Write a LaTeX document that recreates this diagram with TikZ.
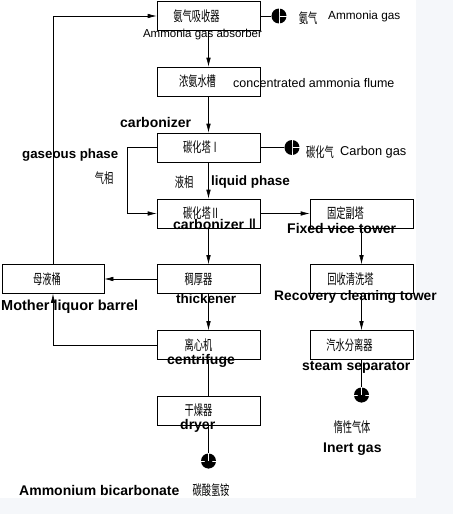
\documentclass[tikz,border=0pt]{standalone}
\usepackage{fontspec}
\setmainfont{Liberation Sans}
\newfontfamily\cjk[FakeStretch=0.66]{Noto Sans CJK SC}
\usetikzlibrary{arrows.meta,calc}
\definecolor{bgc}{RGB}{245,247,250}
\begin{document}
\begin{tikzpicture}[x=1pt,y=-1pt,
  box/.style={draw, line width=0.6pt, minimum width=103pt, minimum height=29pt, inner sep=0pt},
  zh/.style={font=\cjk\fontsize{14}{15}\selectfont, inner sep=0pt},
  en/.style={font=\fontsize{12.5}{13}\selectfont, inner sep=0pt, anchor=west},
  enb/.style={font=\bfseries\fontsize{14}{15}\selectfont, inner sep=0pt, anchor=west},
  flow/.style={line width=0.6pt, -{Latex[length=9pt,width=4.5pt]}},
  plain/.style={line width=0.6pt},
  port/.style={circle, fill=black, minimum size=15pt, inner sep=0pt},
  portmark/.style={white, line width=0.9pt}
]
\useasboundingbox (0,0) rectangle (453,514);
\fill[bgc] (0,0) rectangle (453,514);
\fill[white] (0,0) rectangle (416,498);

% boxes
\node[box, label={[zh, xshift=-12pt]center:氨气吸收器}] (b1) at (208.5,16) {};
\node[box, label={[zh, xshift=-11pt]center:浓氨水槽}] (b2) at (208.5,81.5) {};
\node[box, label={[zh, xshift=-7pt]center:碳化塔Ⅰ}] (b3) at (208.5,147.5) {};
\node[box, label={[zh, xshift=-7pt]center:碳化塔Ⅱ}] (b4) at (208.5,213.5) {};
\node[box, label={[zh, xshift=-16pt]center:固定副塔}] (fv) at (361.5,213.5) {};
\node[box, label={[zh, xshift=-10pt]center:稠厚器}] (th) at (208.5,279) {};
\node[box, label={[zh, xshift=-11pt]center:回收清洗塔}] (rc) at (361.5,279) {};
\node[box, minimum width=102pt, label={[zh, xshift=-6pt]center:母液桶}] (ml) at (53,279) {};
\node[box, label={[zh, xshift=-10pt]center:离心机}] (cf) at (208.5,345) {};
\node[box, label={[zh, xshift=-12pt]center:汽水分离器}] (ss) at (361.5,345) {};
\node[box, label={[zh, xshift=-10pt]center:干燥器}] (dr) at (208.5,410.5) {};

% ports
\node[port] (pa) at (279,16) {};
\node[port] (pc) at (292,147.5) {};
\node[port] (pi) at (361.5,395) {};
\node[port] (pb) at (208.5,461) {};
\draw[portmark] (pa.north) -- (pa.south) (pa.center) -- (pa.east);
\draw[portmark] (pc.north) -- (pc.south) (pc.center) -- (pc.east);
\draw[portmark] (pi.west) -- (pi.east) (pi.center) -- (pi.north);
\draw[portmark] (pb.west) -- (pb.east) (pb.center) -- (pb.north);
\fill[black] (pa.west) -- ($(pa.center)+(0,-4)$) -- ($(pa.center)+(0,4)$) -- cycle;
\fill[black] (pc.west) -- ($(pc.center)+(0,-4)$) -- ($(pc.center)+(0,4)$) -- cycle;
\fill[black] (pi.south) -- ($(pi.center)+(-4,0)$) -- ($(pi.center)+(4,0)$) -- cycle;
\fill[black] (pb.south) -- ($(pb.center)+(-4,0)$) -- ($(pb.center)+(4,0)$) -- cycle;

% connectors
\draw[flow] (b1) -- (b2);
\draw[flow] (b2) -- (b3);
\draw[flow] (b3) -- (b4);
\draw[flow] (b4) -- (th);
\draw[flow] (th) -- (cf);
\draw[plain] (cf) -- (dr);
\draw[plain] (dr) -- (pb);
\draw[flow] (b4) -- (fv);
\draw[flow] (fv) -- (rc);
\draw[flow] (rc) -- (ss);
\draw[plain] (ss) -- (pi);
\draw[flow] (th) -- (ml);
\draw[plain] (pa) -- (b1);
\draw[plain] (pc) -- (b3);
\coordinate (g1) at (127,147.5);
\draw[flow] (b3.west) -- (g1) |- (b4.west);
\draw[flow] (ml.north) |- (b1.west);
\draw[flow] (cf.west) -| (ml.south);

% labels
\node[en, anchor=center, font=\fontsize{11.5}{12}\selectfont] (l1) at (202.5,35) {Ammonia gas absorber};
\node[zh] (l2) at (308,18) {氨气};
\node[en, font=\fontsize{11.8}{12}\selectfont] (l3) at (328,16) {Ammonia gas};
\node[en] (l4) at (233,83) {concentrated ammonia flume};
\node[enb] (l5) at (120,122) {carbonizer};
\node[enb, font=\bfseries\fontsize{13.3}{14}\selectfont] (l6) at (22,155) {gaseous phase};
\node[zh] (l7) at (104,178) {气相};
\node[zh, anchor=west] (l8) at (306,152) {碳化气};
\node[en, font=\fontsize{12.8}{13}\selectfont] (l9) at (340,152) {Carbon gas};
\node[zh] (l10) at (184,182) {液相};
\node[enb, font=\bfseries\fontsize{13.5}{14}\selectfont] (l11) at (211,182) {liquid phase};
\node[enb] (l12) at (173,224) {carbonizer {\cjk Ⅱ}};
\node[enb] (l13) at (287,228) {Fixed vice tower};
\node[enb, font=\bfseries\fontsize{14.5}{15}\selectfont] (l14) at (1,307) {Mother liquor barrel};
\node[enb, font=\bfseries\fontsize{13.5}{14}\selectfont] (l15) at (176,299) {thickener};
\node[enb, font=\bfseries\fontsize{13.8}{14}\selectfont] (l16) at (274,297) {Recovery cleaning tower};
\node[enb] (l17) at (167,361) {centrifuge};
\node[enb] (l18) at (302,367) {steam separator};
\node[enb] (l19) at (180,426) {dryer};
\node[zh] (l20) at (352,427) {惰性气体};
\node[enb] (l21) at (323,449) {Inert gas};
\node[enb] (l22) at (19,490) {Ammonium bicarbonate};
\node[zh] (l23) at (211,490) {碳酸氢铵};
\end{tikzpicture}
\end{document}
